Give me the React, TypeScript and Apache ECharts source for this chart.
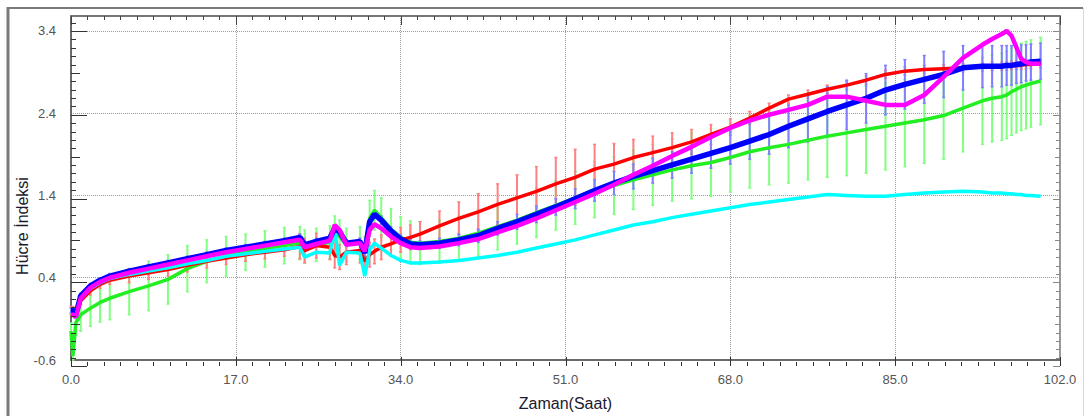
import React, { useEffect, useRef } from "react";
import * as echarts from "echarts";

// time axis (hours)
const times = [
  0, 0.2, 0.5, 1, 2, 3, 4,
  6, 8, 10, 12, 14, 16, 18, 20, 22,
  23.6, 24.1, 25.3, 26.7, 27.2, 27.7, 28.4, 29.8, 30.3, 30.8, 31.3,
  32, 33, 34, 35, 36,
  38, 40, 42, 44, 46, 48, 50, 52, 54, 56, 58, 60, 62, 64, 66, 68, 70, 72, 74, 76, 78, 80, 82, 84, 86, 88, 90, 92, 94,
  95, 96, 96.5, 97, 97.5, 98, 98.5, 99, 100,
];

const blue = [
  0.0, 0.0, -0.05, 0.18, 0.3, 0.37, 0.42,
  0.48, 0.53, 0.58, 0.63, 0.68, 0.73, 0.77, 0.81, 0.85,
  0.89, 0.8, 0.84, 0.88, 1.0, 0.96, 0.82, 0.84, 0.7, 1.08, 1.17,
  1.1, 0.97, 0.87, 0.81, 0.8,
  0.82, 0.86, 0.91, 1.0, 1.08, 1.17, 1.26, 1.36, 1.46, 1.55, 1.63, 1.7, 1.77, 1.84, 1.91, 1.98, 2.06, 2.14, 2.24, 2.33, 2.42, 2.5, 2.58, 2.68, 2.75, 2.81, 2.87, 2.95, 2.97,
  2.97, 2.97, 2.98, 2.98, 2.99, 3.0, 3.01, 3.02, 3.03,
];

const magenta = [
  -0.05, -0.05, -0.08, 0.15, 0.28, 0.35, 0.4,
  0.46, 0.51, 0.56, 0.61, 0.66, 0.71, 0.75, 0.79, 0.83,
  0.86, 0.77, 0.81, 0.85, 1.04, 0.98, 0.8, 0.82, 0.72, 0.98, 1.05,
  1.0, 0.9, 0.82, 0.77, 0.76,
  0.78, 0.82, 0.87, 0.95, 1.03, 1.12, 1.22, 1.32, 1.42, 1.53, 1.65, 1.76, 1.88, 1.99, 2.11, 2.22, 2.31, 2.38, 2.44, 2.5, 2.6, 2.6, 2.55, 2.5, 2.5, 2.62, 2.84, 3.07, 3.23,
  3.3, 3.36, 3.4, 3.34, 3.2, 3.06, 3.02, 3.0, 3.0,
];

const red = [
  0.0, 0.0, -0.02, 0.12, 0.24, 0.32, 0.37,
  0.42, 0.46, 0.5, 0.55, 0.6, 0.64, 0.68, 0.71, 0.74,
  0.78, 0.73, 0.79, 0.77, 0.67, 0.65, 0.71, 0.73, 0.6, 0.68, 0.72,
  0.77, 0.81, 0.86, 0.89, 0.93,
  1.03, 1.12, 1.2, 1.29, 1.37, 1.45, 1.54, 1.62, 1.72, 1.78, 1.86, 1.92, 1.98, 2.05, 2.14, 2.23, 2.34, 2.46, 2.57, 2.63, 2.69, 2.74, 2.8, 2.87, 2.91, 2.93, 2.94, 2.95, 2.96,
  2.97, 2.97, 2.97, 2.98, 2.98, 2.98, 2.99, 2.99, 3.0,
];

const cyan = [
  0.02, 0.02, 0.0, 0.15, 0.27, 0.34, 0.39,
  0.44, 0.48, 0.52, 0.57, 0.61, 0.66, 0.69, 0.72, 0.75,
  0.77, 0.65, 0.71, 0.7, 0.98, 0.55, 0.71, 0.7, 0.42, 0.74, 0.82,
  0.76, 0.67, 0.61, 0.58, 0.58,
  0.59, 0.61, 0.64, 0.67, 0.71, 0.76, 0.81, 0.86, 0.92, 0.98, 1.04, 1.08, 1.13, 1.17, 1.21, 1.25, 1.29, 1.32, 1.35, 1.38, 1.41, 1.4, 1.39, 1.39, 1.41, 1.43, 1.44, 1.45, 1.44,
  1.43, 1.43, 1.42, 1.42, 1.41, 1.41, 1.4, 1.4, 1.39,
];

const green = [
  -0.25, -0.55, -0.15, -0.05, 0.03, 0.1, 0.15,
  0.23, 0.3, 0.38, 0.51, 0.6, 0.66, 0.71, 0.75, 0.79,
  0.82, 0.78, 0.8, 0.83, 0.95, 0.9, 0.8, 0.82, 0.7, 1.12, 1.22,
  1.13, 0.99, 0.89, 0.83, 0.82,
  0.84, 0.88, 0.94, 1.02, 1.1, 1.19, 1.28, 1.37, 1.47, 1.52, 1.59, 1.65, 1.71, 1.76, 1.8, 1.86, 1.93, 1.98, 2.02, 2.07, 2.12, 2.16, 2.2, 2.24, 2.28, 2.32, 2.37, 2.46, 2.55,
  2.58, 2.6, 2.62, 2.66, 2.69, 2.72, 2.74, 2.76, 2.79,
];

// standard deviations (error bar half-lengths)
const greenSd = [
  0.1, 0.05, 0.15, 0.2, 0.22, 0.24, 0.26,
  0.28, 0.3, 0.3, 0.28, 0.26, 0.24, 0.22, 0.22, 0.22,
  0.2, 0.2, 0.2, 0.2, 0.2, 0.2, 0.2, 0.2, 0.2, 0.22, 0.24,
  0.24, 0.25, 0.25, 0.26, 0.26,
  0.26, 0.27, 0.28, 0.28, 0.29, 0.3, 0.3, 0.32, 0.34, 0.35, 0.36, 0.37, 0.38, 0.4, 0.41, 0.42, 0.44, 0.45, 0.47, 0.48, 0.5, 0.52, 0.53, 0.53, 0.53, 0.53, 0.53, 0.53, 0.53,
  0.53, 0.53, 0.53, 0.53, 0.53, 0.53, 0.53, 0.53, 0.53,
];

const blueSd = [
  0.03, 0.03, 0.03, 0.03, 0.03, 0.03, 0.03,
  0.03, 0.03, 0.03, 0.03, 0.03, 0.03, 0.03, 0.03, 0.03,
  0.04, 0.04, 0.04, 0.04, 0.04, 0.04, 0.04, 0.04, 0.04, 0.04, 0.04,
  0.05, 0.05, 0.05, 0.05, 0.05,
  0.06, 0.07, 0.08, 0.08, 0.09, 0.1, 0.1, 0.12, 0.13, 0.14, 0.15, 0.15, 0.16, 0.17, 0.18, 0.2, 0.22, 0.24, 0.26, 0.28, 0.3, 0.3, 0.3, 0.3, 0.3, 0.29, 0.28, 0.27, 0.26,
  0.25, 0.25, 0.24, 0.24, 0.23, 0.23, 0.22, 0.22, 0.22,
];

const redSd = [
  0.05, 0.05, 0.05, 0.05, 0.05, 0.05, 0.05,
  0.08, 0.08, 0.08, 0.08, 0.08, 0.08, 0.08, 0.08, 0.08,
  0.15, 0.15, 0.15, 0.15, 0.15, 0.15, 0.15, 0.15, 0.15, 0.15, 0.15,
  0.15, 0.15, 0.15, 0.15, 0.15,
  0.18, 0.2, 0.22, 0.25, 0.28, 0.3, 0.32, 0.34, 0.3, 0.25, 0.22, 0.2, 0.18, 0.15, 0.12, 0.1, 0.08, 0.06, 0.05, 0.05, 0.05, 0.05, 0.05, 0.05, 0.05, 0.05, 0.05, 0.05, 0.05,
  0.05, 0.05, 0.05, 0.05, 0.05, 0.05, 0.05, 0.05, 0.05,
];

const xTicks = { min: 0, max: 102, interval: 17 };
const yTicks = { min: -0.6, max: 3.58, interval: 1 };
const xMinorStep = 1.7;
const yMinorStep = 0.1;

const W = 1088;
const H = 416;
const GRID = { left: 71, right: 28, top: 16, bottom: 50 };

const FONT = "Liberation Sans, Arial, sans-serif";

function pairs(vals: number[]) {
  return times.map((t, i) => [t, vals[i]]);
}
function triples(vals: number[], sd: number[]) {
  return times.map((t, i) => [t, vals[i], sd[i]]);
}

function errorSeries(vals: number[], sd: number[], color: string, z: number) {
  return {
    type: "custom",
    z,
    silent: true,
    encode: { x: 0, y: 1 },
    data: triples(vals, sd),
    renderItem: (params: any, api: any) => {
      const t = api.value(0);
      const v = api.value(1);
      const s = api.value(2);
      const top = api.coord([t, v + s]);
      const bot = api.coord([t, v - s]);
      return {
        type: "group",
        children: [
          { type: "line", shape: { x1: top[0], y1: top[1], x2: bot[0], y2: bot[1] }, style: { stroke: color, lineWidth: 2 } },
          { type: "line", shape: { x1: top[0] - 1.5, y1: top[1], x2: top[0] + 1.5, y2: top[1] }, style: { stroke: color, lineWidth: 1.5 } },
          { type: "line", shape: { x1: bot[0] - 1.5, y1: bot[1], x2: bot[0] + 1.5, y2: bot[1] }, style: { stroke: color, lineWidth: 1.5 } },
        ],
      };
    },
  };
}

function lineSeries(vals: number[], color: string, width: number, z: number) {
  return {
    type: "line",
    z,
    data: pairs(vals),
    showSymbol: false,
    symbol: "none",
    silent: true,
    lineStyle: { color, width },
    itemStyle: { color },
  };
}

// inside-pointing tick marks on all four sides of the plot frame
function buildTicks() {
  const left = GRID.left;
  const right = W - GRID.right;
  const top = GRID.top;
  const bottom = H - GRID.bottom;
  const px = (v: number) => left + ((v - xTicks.min) / (xTicks.max - xTicks.min)) * (right - left);
  const py = (v: number) => bottom - ((v - yTicks.min) / (yTicks.max - yTicks.min)) * (bottom - top);
  const out: any[] = [];
  const nx = Math.round((xTicks.max - xTicks.min) / xMinorStep);
  for (let k = 0; k <= nx; k++) {
    const x = Math.round(px(xTicks.min + k * xMinorStep)) + 0.5;
    const len = k % 10 === 0 ? 9 : 4;
    out.push({ type: "line", silent: true, z: 50, shape: { x1: x, y1: bottom, x2: x, y2: bottom - len }, style: { stroke: "#333", lineWidth: 1 } });
    out.push({ type: "line", silent: true, z: 50, shape: { x1: x, y1: top, x2: x, y2: top + len }, style: { stroke: "#444", lineWidth: 1 } });
  }
  const ny = Math.floor((yTicks.max - yTicks.min) / yMinorStep + 1e-6);
  for (let k = 0; k <= ny; k++) {
    const y = Math.round(py(yTicks.min + k * yMinorStep)) + 0.5;
    const major = k % 10 === 0;
    const mid = k % 5 === 0;
    const lenL = major ? 16 : mid ? 9 : 5;
    const lenR = major ? 7 : mid ? 5 : 4;
    out.push({ type: "line", silent: true, z: 50, shape: { x1: left, y1: y, x2: left + lenL, y2: y }, style: { stroke: "#333", lineWidth: 1 } });
    out.push({ type: "line", silent: true, z: 50, shape: { x1: right, y1: y, x2: right - lenR, y2: y }, style: { stroke: "#888", lineWidth: 1 } });
  }
  return out;
}

export default function App() {
  const ref = useRef<HTMLDivElement>(null);
  useEffect(() => {
    if (!ref.current) return;
    const chart = echarts.init(ref.current, null, { renderer: "svg" });
    const axisBase = {
      type: "value",
      axisLine: { show: true, onZero: false, lineStyle: { color: "#6a6a6a", width: 2 } },
      axisTick: { show: false },
      minorTick: { show: false },
    };
    chart.setOption({
      animation: false,
      backgroundColor: "#ffffff",
      grid: { ...GRID, containLabel: false },
      xAxis: [
        {
          ...axisBase,
          ...xTicks,
          position: "bottom",
          splitLine: { show: true, lineStyle: { type: "dotted", color: "#9a9a9a", width: 1 } },
          axisLabel: { formatter: (v: number) => v.toFixed(1), color: "#555", fontSize: 13, fontFamily: FONT, margin: 13 },
          name: "Zaman(Saat)",
          nameLocation: "middle",
          nameGap: 35,
          nameTextStyle: { color: "#1a1a2e", fontSize: 16, fontFamily: FONT },
        },
        {
          ...axisBase,
          ...xTicks,
          position: "top",
          splitLine: { show: false },
          axisLabel: { show: false },
          axisLine: { show: true, onZero: false, lineStyle: { color: "#777", width: 2 } },
        },
      ],
      yAxis: [
        {
          ...axisBase,
          ...yTicks,
          position: "left",
          splitLine: { show: true, lineStyle: { type: "dotted", color: "#9a9a9a", width: 1 } },
          axisLabel: { formatter: (v: number) => v.toFixed(1), color: "#555", fontSize: 13, fontFamily: FONT, margin: 15, showMaxLabel: false },
        },
        {
          ...axisBase,
          ...yTicks,
          position: "right",
          splitLine: { show: false },
          axisLabel: { show: false },
          axisLine: { show: true, onZero: false, lineStyle: { color: "#999", width: 2 } },
        },
      ],
      graphic: [
        { type: "line", silent: true, shape: { x1: 7, y1: 8, x2: 1083, y2: 8 }, style: { stroke: "#7a7a7a", lineWidth: 2 } },
        { type: "line", silent: true, shape: { x1: 8, y1: 7, x2: 8, y2: 416 }, style: { stroke: "#7a7a7a", lineWidth: 3 } },
        { type: "line", silent: true, shape: { x1: 1083.5, y1: 8, x2: 1083.5, y2: 416 }, style: { stroke: "#d8d8d8", lineWidth: 1 } },
        {
          type: "text",
          x: 22,
          y: 226,
          rotation: Math.PI / 2,
          style: { text: "Hücre İndeksi", fill: "#1a1a2e", fontSize: 16, fontFamily: FONT, align: "center", verticalAlign: "middle" },
        },
        ...buildTicks(),
      ],
      series: [
        errorSeries(green, greenSd, "#80ff80", 1),
        errorSeries(red, redSd, "#ff8080", 1),
        errorSeries(blue, blueSd, "#8080ff", 1),
        lineSeries(green, "#22ee22", 3.5, 3),
        lineSeries(red, "#ff0000", 3.5, 3),
        lineSeries(cyan, "#00ffff", 3.5, 3),
        lineSeries(blue, "#0000ff", 5.5, 4),
        lineSeries(magenta, "#ff00ff", 4.5, 5),
      ],
    });
    return () => chart.dispose();
  }, []);
  return <div ref={ref} style={{ position: "absolute", left: 0, top: 0, width: W, height: H }} />;
}
